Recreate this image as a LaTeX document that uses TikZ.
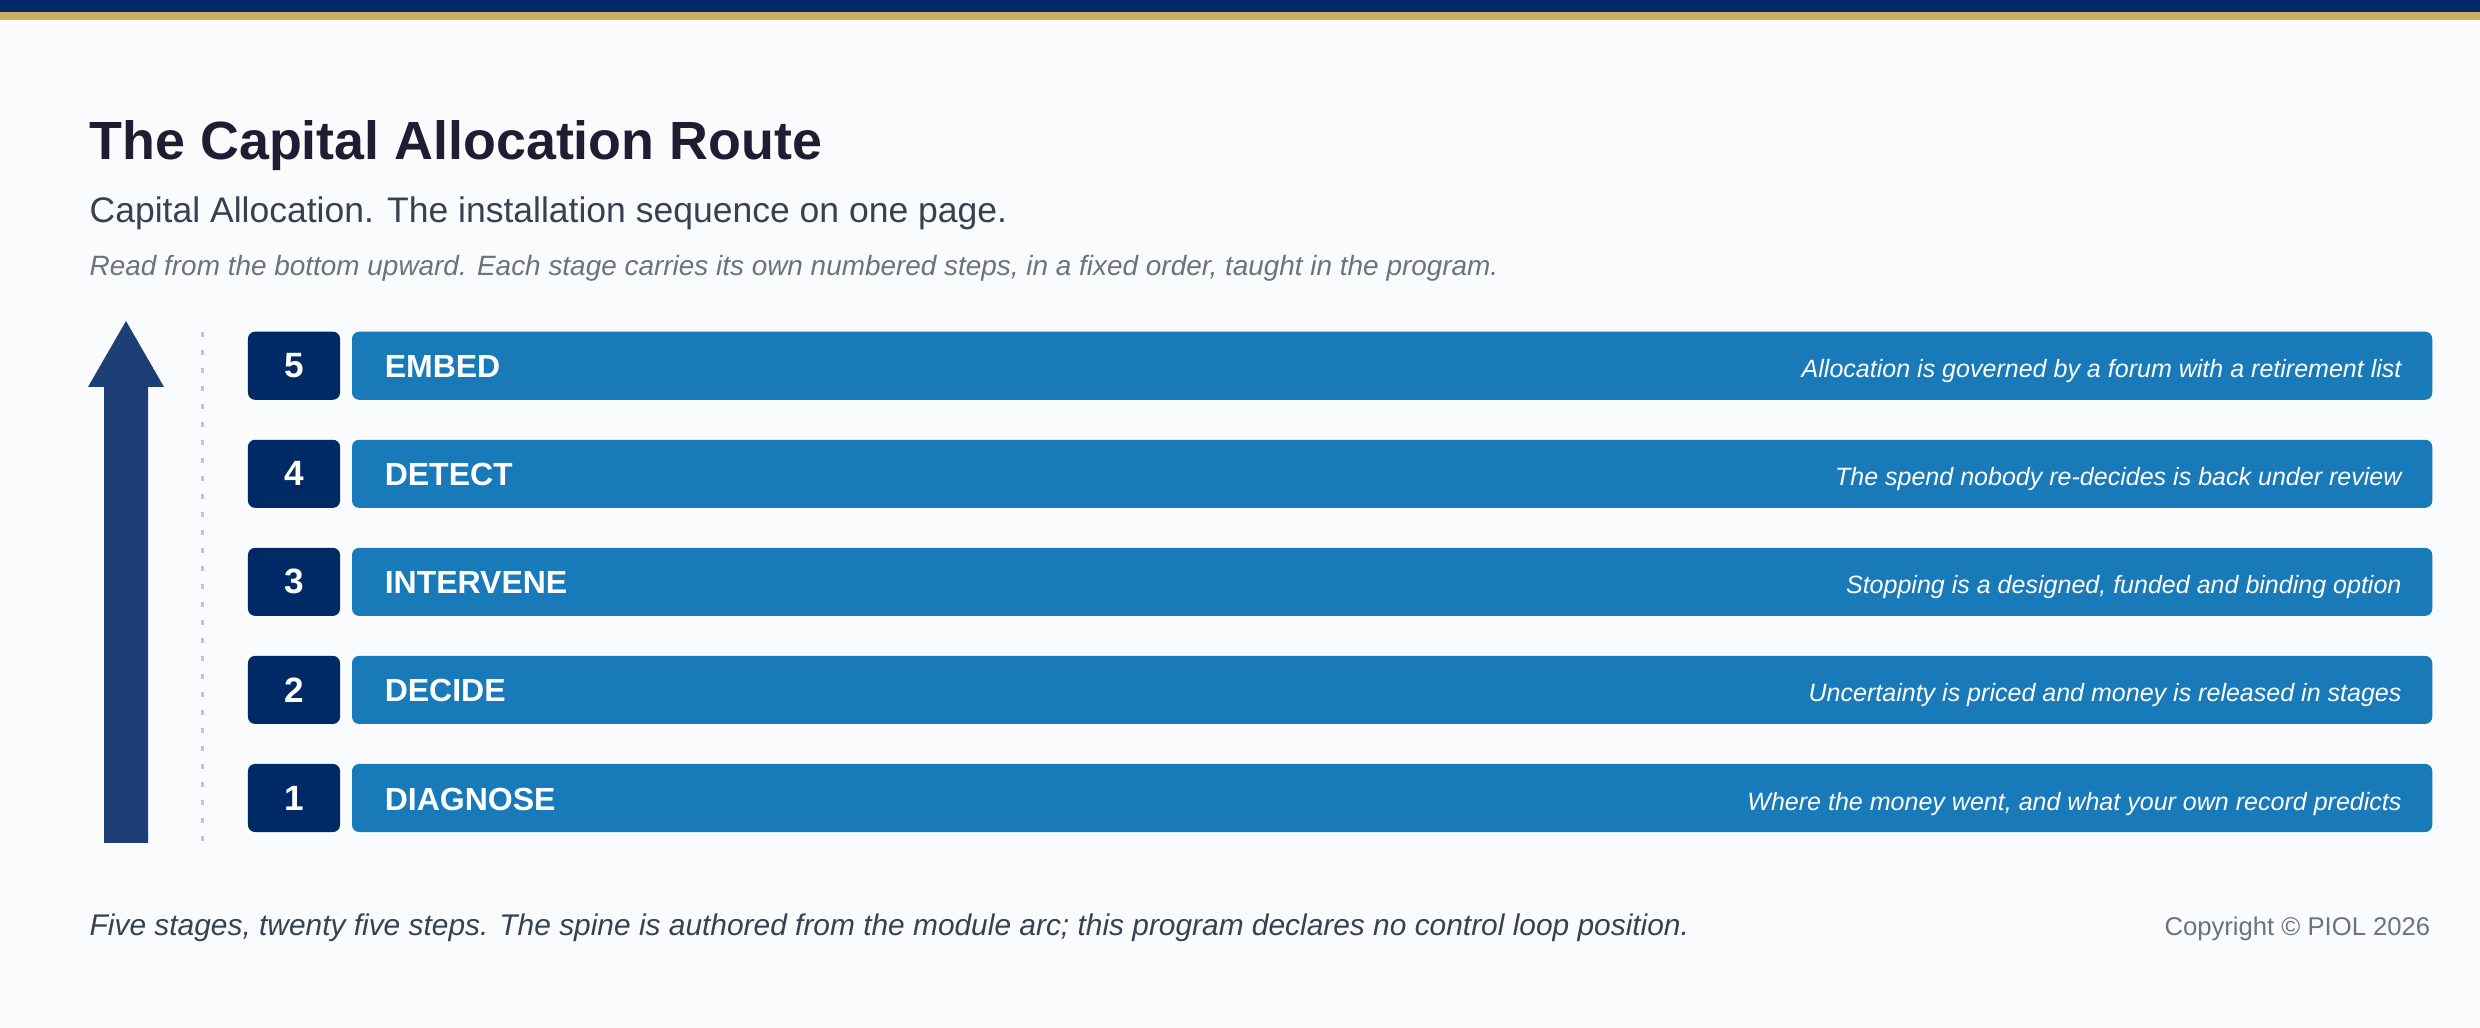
\documentclass[tikz,border=0pt]{standalone}
\usepackage{fontspec}
\setmainfont{Liberation Sans}
\usetikzlibrary{positioning, arrows.meta}
\tikzset{
    >=Stealth,
    every node/.style={rounded corners=2pt}
}

\begin{document}
\begin{tikzpicture}[x=0.01cm, y=-0.01cm]
  % page colours (RGB, sampled by eye)
  \definecolor{bgColor}{RGB}{250,251,253}     % near white
  \definecolor{navyColor}{RGB}{0,42,102}      % number boxes, top rule
  \definecolor{goldColor}{RGB}{201,174,100}   % thin gold rule
  \definecolor{barColor}{RGB}{24,122,184}     % stage bars
  \definecolor{spineColor}{RGB}{30,63,117}    % upward arrow
  \definecolor{titleColor}{RGB}{30,29,50}
  \definecolor{textColor}{RGB}{55,65,81}
  \definecolor{mutedColor}{RGB}{107,114,128}
  \definecolor{dashColor}{RGB}{192,197,205}

  % common styles for the stage rows
  \tikzset{
    numbox/.style={
      fill=navyColor,
      text=white,
      minimum width=0.92cm,
      minimum height=0.68cm,
      inner sep=0pt,
      outer sep=0pt,
      font=\bfseries\fontsize{10pt}{12pt}\selectfont
    },
    stagebar/.style={
      fill=barColor,
      minimum width=20.79cm,
      minimum height=0.68cm,
      inner sep=0pt,
      outer sep=0pt,
      anchor=west
    },
    stagelabel/.style={
      text=white,
      inner sep=0pt,
      anchor=base west,
      font=\bfseries\fontsize{9.1pt}{11pt}\selectfont
    },
    stagedesc/.style={
      text=white,
      inner sep=0pt,
      anchor=base east,
      font=\itshape\fontsize{7.12pt}{9pt}\selectfont
    },
    plaintext/.style={
      inner sep=0pt,
      anchor=base west
    }
  }

  % background and top rules
  \fill[bgColor] (0,0) rectangle (2480,1028);
  \fill[navyColor] (0,0) rectangle (2480,12);
  \fill[goldColor] (0,12) rectangle (2480,20);

  % heading
  \node[plaintext, text=titleColor, font=\bfseries\fontsize{15.3pt}{18pt}\selectfont] (title) at (89,160) {The Capital Allocation Route};
  \node[plaintext, text=textColor, font=\fontsize{10.1pt}{12pt}\selectfont] (subtitle) at (89,223) {Capital Allocation. The installation sequence on one page.};
  \node[plaintext, text=mutedColor, font=\itshape\fontsize{7.94pt}{9pt}\selectfont] (hint) at (89,276) {Read from the bottom upward. Each stage carries its own numbered steps, in a fixed order, taught in the program.};

  % spine arrow and dotted guide
  \fill[spineColor] (104,843) -- (104,387) -- (88,387) -- (126,321) -- (164,387) -- (148,387) -- (148,843) -- cycle;
  \draw[dashColor, line width=0.03cm, dash pattern=on 0.05cm off 0.13cm] (202,332) -- (202,841);

  % stage rows, bottom to top
  \node[numbox] (n1) at (294,798) {1};
  \node[numbox, above=0.4cm of n1] (n2) {2};
  \node[numbox, above=0.4cm of n2] (n3) {3};
  \node[numbox, above=0.4cm of n3] (n4) {4};
  \node[numbox, above=0.4cm of n4] (n5) {5};

  \node[stagebar, right=0.12cm of n1] (s1) {};
  \node[stagebar, right=0.12cm of n2] (s2) {};
  \node[stagebar, right=0.12cm of n3] (s3) {};
  \node[stagebar, right=0.12cm of n4] (s4) {};
  \node[stagebar, right=0.12cm of n5] (s5) {};

  \node[stagelabel] (l1) at ([xshift=0.32cm, yshift=-0.12cm]s1.west) {DIAGNOSE};
  \node[stagelabel] (l2) at ([xshift=0.32cm, yshift=-0.12cm]s2.west) {DECIDE};
  \node[stagelabel] (l3) at ([xshift=0.32cm, yshift=-0.12cm]s3.west) {INTERVENE};
  \node[stagelabel] (l4) at ([xshift=0.32cm, yshift=-0.12cm]s4.west) {DETECT};
  \node[stagelabel] (l5) at ([xshift=0.32cm, yshift=-0.12cm]s5.west) {EMBED};

  \node[stagedesc] (d1) at ([xshift=-0.3cm, yshift=-0.12cm]s1.east) {Where the money went, and what your own record predicts};
  \node[stagedesc] (d2) at ([xshift=-0.3cm, yshift=-0.12cm]s2.east) {Uncertainty is priced and money is released in stages};
  \node[stagedesc] (d3) at ([xshift=-0.3cm, yshift=-0.12cm]s3.east) {Stopping is a designed, funded and binding option};
  \node[stagedesc] (d4) at ([xshift=-0.3cm, yshift=-0.12cm]s4.east) {The spend nobody re-decides is back under review};
  \node[stagedesc] (d5) at ([xshift=-0.3cm, yshift=-0.12cm]s5.east) {Allocation is governed by a forum with a retirement list};

  % footer
  \node[plaintext, text=textColor, font=\itshape\fontsize{8.5pt}{10pt}\selectfont] (footnote) at (89,936) {Five stages, twenty five steps. The spine is authored from the module arc; this program declares no control loop position.};
  \node[plaintext, anchor=base east, text=mutedColor, font=\fontsize{7.3pt}{9pt}\selectfont] (copyright) at (2431,936) {Copyright © PIOL 2026};
\end{tikzpicture}
\end{document}
